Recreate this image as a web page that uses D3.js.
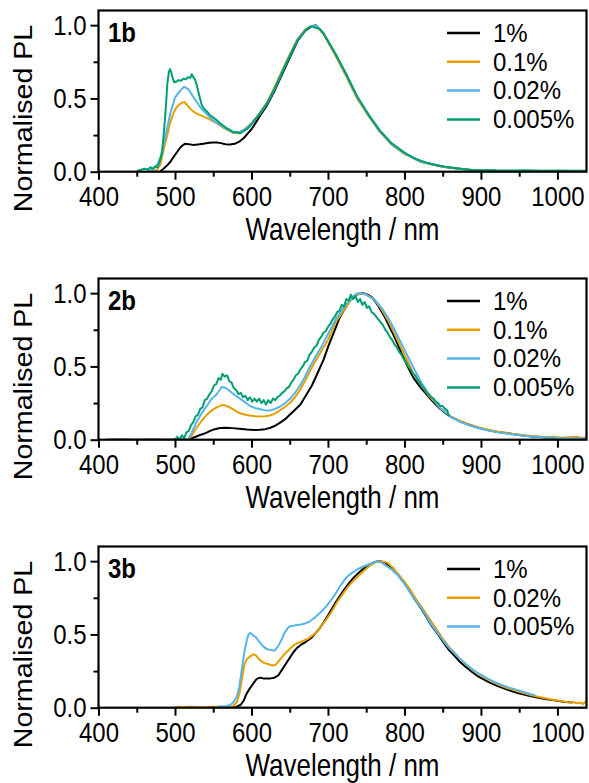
<!DOCTYPE html>
<html>
<head>
<meta charset="utf-8">
<script src="https://cdn.jsdelivr.net/npm/d3@7"></script>
<style>
  html, body { margin: 0; padding: 0; background: #fff; }
  svg { display: block; }
  text { font-family: "Liberation Sans", Arial, sans-serif; fill: #000; }
  /* the figure's lettering is drawn slightly tall */
  text.tall { transform-box: fill-box; transform-origin: center; transform: scaleY(1.18); }
  text.legend { transform-box: fill-box; transform-origin: center; transform: scaleY(1.06); }
</style>
</head>
<body>
<svg id="fig" width="589" height="783"></svg>
<script>
// ---- Photoluminescence spectra, normalised (wavelength in nm) ----

// Panel 1b
const wl1bBlack = [480,485,490,494,498,503,507,510,513,518,524,530,537,545,550,555,560,566,572,578,584,590,595,600,605,611,620,630,645,660,670,678,684,694,709,724,738,753,768,783,800,822,851,886,920,960,1000,1040];
const pl1bBlack = [0,0.02,0.045,0.068,0.1,0.136,0.165,0.18,0.19,0.187,0.183,0.186,0.19,0.197,0.2,0.199,0.195,0.187,0.185,0.19,0.205,0.23,0.26,0.29,0.33,0.38,0.45,0.55,0.72,0.89,0.96,0.99,1.0,0.945,0.81,0.66,0.51,0.386,0.275,0.19,0.125,0.068,0.034,0.012,0.006,0.004,0.003,0.003];

const wl1bOrange = [470,476,481,485,490,494,498,502,506,509,512,516,520,524,529,537,546,555,563,572,581,590,600,611,620,630,645,660,670,678,684,694,709,724,738,753,768,783,800,822,851,886,920,960,1000,1040];
const pl1bOrange = [0,0.01,0.05,0.148,0.25,0.34,0.4,0.44,0.46,0.47,0.475,0.455,0.43,0.41,0.395,0.378,0.355,0.33,0.3,0.275,0.262,0.285,0.33,0.4,0.47,0.575,0.745,0.905,0.97,0.995,0.995,0.94,0.8,0.65,0.5,0.38,0.27,0.186,0.122,0.066,0.032,0.011,0.006,0.005,0.004,0.004];

const wl1bBlue = [465,472,477,481,487,494,500,507,512,518,524,533,542,550,559,568,577,585,594,602,611,620,630,645,660,670,678,684,694,709,724,738,753,768,783,800,822,851,886,920,960,1000,1040];
const pl1bBlue = [0,0.02,0.05,0.1,0.23,0.4,0.505,0.555,0.58,0.56,0.51,0.44,0.39,0.35,0.32,0.29,0.272,0.27,0.3,0.34,0.395,0.46,0.56,0.735,0.9,0.965,0.995,1.0,0.945,0.81,0.66,0.51,0.386,0.275,0.19,0.125,0.068,0.034,0.012,0.006,0.004,0.003,0.003];

const wl1bGreen = [450,455,460,465,468,471,474,477,480,483,486,488,490,492,493.5,495,497,499,502,505,508,511,514,517,520,522,524,526,528,531,535,538,542,546,550,555,559,563,568,572,576,580,585,589,594,598,603,611,620,630,645,660,670,675,680,684,689,694,709,724,738,753,768,783,800,815,830,845,860,875,890,905,920,940,960,980,1000,1020,1040];
const pl1bGreen = [0.005,0.012,0.02,0.015,0.03,0.02,0.035,0.03,0.07,0.125,0.3,0.44,0.6,0.68,0.7,0.68,0.64,0.61,0.615,0.625,0.62,0.635,0.63,0.645,0.64,0.665,0.645,0.63,0.6,0.535,0.455,0.43,0.41,0.385,0.37,0.35,0.33,0.315,0.295,0.285,0.265,0.27,0.262,0.275,0.29,0.31,0.345,0.4,0.465,0.565,0.735,0.895,0.96,0.985,0.99,0.98,0.975,0.945,0.81,0.665,0.515,0.39,0.28,0.195,0.13,0.085,0.06,0.04,0.028,0.018,0.012,0.01,0.008,0.008,0.01,0.007,0.009,0.006,0.006];

// Panel 2b
const wl2bBlack = [410,430,450,470,490,505,515,522,532,540,546,552,559,567,575,584,594,603,611,618,624,631,637,644,650,657,664,671,679,686,694,701,709,715,721,727,733,740,746,752,758,765,773,780,787,797,805,812,822,832,840,847,854,861,873,886,898,910,922,935,948,960,972,984,1000,1020,1040];
const pl2bBlack = [0,0.002,0,0.002,0,0.001,0,0.01,0.03,0.045,0.06,0.072,0.08,0.082,0.079,0.074,0.069,0.067,0.068,0.072,0.08,0.095,0.115,0.14,0.17,0.205,0.24,0.3,0.37,0.45,0.543,0.645,0.75,0.83,0.886,0.935,0.975,0.995,1.0,0.99,0.97,0.92,0.85,0.775,0.7,0.58,0.49,0.42,0.35,0.29,0.245,0.21,0.18,0.155,0.125,0.1,0.08,0.065,0.053,0.044,0.034,0.025,0.02,0.015,0.012,0.009,0.007];

const wl2bOrange = [517,522,528,535,541.5,548,554.5,561,566,572,578,585,592,598,605,611,618,624,631,637,644,650,657,663.5,670,676.6,684,692,700,710,720,728,735,742,750,760,770,780,790,800,812,822,832,847,861,873,886,898,910,922,935,948,960,972,984,995,1005,1015,1025,1032,1040];
const pl2bOrange = [0,0.03,0.08,0.13,0.17,0.2,0.22,0.236,0.233,0.22,0.2,0.18,0.17,0.165,0.16,0.158,0.16,0.165,0.18,0.2,0.225,0.25,0.29,0.34,0.4,0.47,0.54,0.61,0.68,0.8,0.88,0.94,0.98,1.0,0.99,0.96,0.89,0.8,0.69,0.58,0.45,0.37,0.3,0.215,0.158,0.125,0.1,0.082,0.067,0.055,0.045,0.036,0.028,0.024,0.018,0.02,0.014,0.017,0.02,0.012,0.018];

const wl2bBlue = [517,522,528,535,541.5,548,554.5,561,566,572,578,585,592,598,605,611,618,624,631,637,644,650.5,657,663.5,670,676.6,684,692,700,710,720,728,738,748,760,770,780,790,800,812,822,832,847,861,873,886,898,910,922,935,948,960,972,984,1000,1020,1040];
const pl2bBlue = [0,0.05,0.12,0.18,0.23,0.28,0.31,0.36,0.355,0.33,0.305,0.28,0.255,0.23,0.215,0.21,0.2,0.2,0.21,0.225,0.25,0.28,0.32,0.37,0.43,0.5,0.57,0.64,0.72,0.82,0.9,0.95,1.0,0.995,0.96,0.9,0.82,0.72,0.615,0.49,0.39,0.31,0.215,0.155,0.12,0.095,0.078,0.062,0.05,0.04,0.032,0.026,0.02,0.016,0.012,0.01,0.008];

const wl2bGreen = [500,503,506,509,512,515,518,521,524,527,530,533,536,539,542,545,548,551,554,557,560,562,565,568,571,574,577,580,583,586,589,592,595,598,601,604,607,610,613,616,619,622,625,628,631,634,637,640,643,646,649,652,655,658,661,664,667,670,673,676,679,682,685,688,691,694,697,700,703,706,709,712,715,718,721,724,727,730,733,736,739,742,745,748,751,754,757,760,763,766,769,772,775,778,781,784,787,790,793,796,799,802,805,808,811,814,817,820,823,826,829,832,835,838,841,844,847,850,853,856,858];
const pl2bGreen = [0,0.02,0,0.03,0.01,0.05,0.06,0.1,0.12,0.16,0.17,0.21,0.22,0.27,0.28,0.31,0.33,0.37,0.38,0.42,0.41,0.45,0.43,0.44,0.4,0.39,0.35,0.34,0.31,0.32,0.29,0.3,0.27,0.29,0.26,0.28,0.26,0.28,0.25,0.27,0.24,0.27,0.25,0.28,0.27,0.29,0.3,0.32,0.33,0.35,0.36,0.39,0.41,0.44,0.45,0.48,0.5,0.53,0.54,0.58,0.6,0.63,0.64,0.68,0.7,0.73,0.74,0.77,0.79,0.82,0.84,0.87,0.88,0.92,0.91,0.96,0.95,0.99,0.96,0.98,0.94,0.96,0.92,0.94,0.9,0.91,0.87,0.86,0.84,0.82,0.8,0.78,0.75,0.73,0.7,0.68,0.65,0.63,0.6,0.58,0.55,0.53,0.5,0.48,0.45,0.44,0.41,0.39,0.36,0.35,0.32,0.31,0.29,0.28,0.26,0.25,0.23,0.23,0.21,0.2,0.16];

// Panel 3b
const wl3bBlack = [572,580,586,590,593,597,601,605,608,612,615,620,625,630,635,640,645,650,655,660,665,670,674,679,684,689,694,699,704,709,714,719,726,733,740,748,755,763,768,775,785,792,800,807,814,822,829,836,844,851,858,866,873,881,888,895,903,910,922,935,948,960,972,984,996,1008,1020];
const pl3bBlack = [0,0.005,0.02,0.05,0.09,0.125,0.155,0.185,0.2,0.205,0.2,0.2,0.2,0.205,0.22,0.26,0.3,0.34,0.38,0.41,0.43,0.445,0.46,0.48,0.51,0.54,0.58,0.62,0.665,0.71,0.75,0.79,0.84,0.885,0.92,0.955,0.98,0.997,1.0,0.99,0.95,0.905,0.85,0.795,0.735,0.675,0.615,0.555,0.5,0.445,0.395,0.35,0.31,0.275,0.245,0.218,0.195,0.175,0.147,0.122,0.1,0.085,0.072,0.06,0.05,0.04,0.035];

const wl3bOrange = [500,510,520,530,540,550,560,571,576,581,584,586,589,591,594,598,603,606,610,615,620,627.6,632,637,643,650,655,660,665,669,674,679,684,689,694,699,704,708.7,713,718.5,726,733,740,748,755,763,770,777.5,785,792,800,807,814,821.7,829,836.5,844,851,858,866,873,881,888,895.5,903,910,922,935,948,960,972,984,996,1008,1015,1020,1025,1030,1033,1036,1040];
const pl3bOrange = [0.005,0.003,0.006,0.004,0.005,0.006,0.004,0.005,0.01,0.04,0.09,0.15,0.24,0.3,0.33,0.35,0.365,0.355,0.33,0.31,0.3,0.288,0.295,0.327,0.365,0.4,0.425,0.44,0.45,0.46,0.47,0.49,0.51,0.54,0.575,0.61,0.65,0.69,0.73,0.77,0.825,0.865,0.9,0.94,0.97,0.995,1.0,0.99,0.955,0.91,0.86,0.81,0.75,0.692,0.635,0.578,0.52,0.464,0.415,0.372,0.33,0.293,0.262,0.235,0.21,0.19,0.16,0.133,0.112,0.094,0.078,0.065,0.052,0.042,0.036,0.04,0.03,0.035,0.025,0.038,0.03];

const wl3bBlue = [555,560,565,570,575,578,581,584,586,589,591,594,596,598,601,603,606,610,615,620,625,630,635,640,643,647,650,655,660,665,670,675,679,684,689,694,699,704,709,716,723.6,730,738,745,753,760,765,770,777,785,792,800,807,814,822,829,836,844,851,858,866,873,881,888,895,903,910,922,935,948,960,966,971];
const pl3bBlue = [0.005,0.01,0.008,0.015,0.03,0.05,0.08,0.14,0.21,0.32,0.39,0.46,0.5,0.51,0.5,0.49,0.48,0.45,0.42,0.4,0.393,0.39,0.42,0.47,0.51,0.54,0.556,0.56,0.565,0.568,0.575,0.585,0.6,0.62,0.645,0.67,0.7,0.735,0.77,0.83,0.886,0.915,0.943,0.96,0.977,0.99,1.0,0.99,0.965,0.935,0.9,0.845,0.79,0.735,0.68,0.62,0.56,0.505,0.455,0.41,0.37,0.33,0.295,0.265,0.24,0.215,0.195,0.165,0.14,0.12,0.1,0.09,0.085];

// Legend labels (dye loading) and axis ticks
const panelLabels = ["1b", "2b", "3b"];
const legend1b = ["1%", "0.1%", "0.02%", "0.005%"];
const legend2b = ["1%", "0.1%", "0.02%", "0.005%"];
const legend3b = ["1%", "0.02%", "0.005%"];
const xMajorTicks = [400, 500, 600, 700, 800, 900, 1000];
const xMinorTicks = [450, 550, 650, 750, 850, 950];
const yMajorTicks = [0.0, 0.5, 1.0];
const yMinorTicks = [0.25, 0.75];

const COLORS = { black: "#000000", orange: "#E69F00", blue: "#56B4E9", green: "#009E73" };

const panels = [
  {
    label: panelLabels[0], top: 10.5,
    series: [
      { wl: wl1bBlack, pl: pl1bBlack, color: COLORS.black, name: legend1b[0] },
      { wl: wl1bOrange, pl: pl1bOrange, color: COLORS.orange, name: legend1b[1] },
      { wl: wl1bBlue, pl: pl1bBlue, color: COLORS.blue, name: legend1b[2] },
      { wl: wl1bGreen, pl: pl1bGreen, color: COLORS.green, name: legend1b[3] }
    ]
  },
  {
    label: panelLabels[1], top: 278.5,
    series: [
      { wl: wl2bBlack, pl: pl2bBlack, color: COLORS.black, name: legend2b[0] },
      { wl: wl2bOrange, pl: pl2bOrange, color: COLORS.orange, name: legend2b[1] },
      { wl: wl2bBlue, pl: pl2bBlue, color: COLORS.blue, name: legend2b[2] },
      { wl: wl2bGreen, pl: pl2bGreen, color: COLORS.green, name: legend2b[3] }
    ]
  },
  {
    label: panelLabels[2], top: 546.5,
    series: [
      { wl: wl3bBlack, pl: pl3bBlack, color: COLORS.black, name: legend3b[0] },
      { wl: wl3bOrange, pl: pl3bOrange, color: COLORS.orange, name: legend3b[1] },
      { wl: wl3bBlue, pl: pl3bBlue, color: COLORS.blue, name: legend3b[2] }
    ]
  }
];

const svg = d3.select("#fig");
const plotLeft = 98.5, plotRight = 586.5, plotH = 161.2;
const TICK_FONT = 24, TITLE_FONT = 26, LEGEND_FONT = 24;

const x = d3.scaleLinear().domain([400, 1038]).range([plotLeft, plotRight]);

panels.forEach(p => {
  const y = d3.scaleLinear().domain([0, 1.1]).range([p.top + plotH, p.top]);
  const g = svg.append("g");
  const bottom = p.top + plotH;

  // clip to the plotting frame
  const clipId = "clip-" + p.label;
  g.append("clipPath").attr("id", clipId)
    .append("rect").attr("x", plotLeft).attr("y", p.top)
    .attr("width", plotRight - plotLeft).attr("height", plotH);

  const line = d3.line().x(d => x(d[0])).y(d => y(d[1]));
  const curves = g.append("g").attr("clip-path", `url(#${clipId})`);
  p.series.forEach(s => {
    curves.append("path")
      .datum(d3.zip(s.wl, s.pl))
      .attr("d", line)
      .attr("fill", "none")
      .attr("stroke", s.color)
      .attr("stroke-width", 2)
      .attr("stroke-linejoin", "round");
  });

  // frame
  g.append("rect").attr("x", plotLeft).attr("y", p.top)
    .attr("width", plotRight - plotLeft).attr("height", plotH)
    .attr("fill", "none").attr("stroke", "#000").attr("stroke-width", 2.2);

  // bottom axis
  const xAxis = g.append("g").attr("transform", `translate(0,${bottom})`)
    .call(d3.axisBottom(x).tickValues(xMajorTicks).tickSize(8).tickPadding(8).tickFormat(d3.format("d")));
  xAxis.select(".domain").remove();
  xAxis.selectAll(".tick line").attr("stroke-width", 2);
  xAxis.selectAll(".tick text").attr("class", "tall").attr("font-size", TICK_FONT)
    .attr("font-family", "Liberation Sans, Arial, sans-serif");
  const xMinor = g.append("g").attr("transform", `translate(0,${bottom})`)
    .call(d3.axisBottom(x).tickValues(xMinorTicks).tickSize(5).tickFormat(""));
  xMinor.select(".domain").remove();
  xMinor.selectAll(".tick line").attr("stroke-width", 2);

  // left axis
  const yAxis = g.append("g").attr("transform", `translate(${plotLeft},0)`)
    .call(d3.axisLeft(y).tickValues(yMajorTicks).tickSize(8).tickPadding(4).tickFormat(d3.format(".1f")));
  yAxis.select(".domain").remove();
  yAxis.selectAll(".tick line").attr("stroke-width", 2);
  yAxis.selectAll(".tick text").attr("class", "tall").attr("font-size", TICK_FONT)
    .attr("font-family", "Liberation Sans, Arial, sans-serif");
  const yMinor = g.append("g").attr("transform", `translate(${plotLeft},0)`)
    .call(d3.axisLeft(y).tickValues(yMinorTicks).tickSize(5).tickFormat(""));
  yMinor.select(".domain").remove();
  yMinor.selectAll(".tick line").attr("stroke-width", 2);

  // axis titles
  g.append("text").attr("class", "tall")
    .attr("x", (plotLeft + plotRight) / 2).attr("y", bottom + 58)
    .attr("text-anchor", "middle").attr("dominant-baseline", "central")
    .attr("font-size", TITLE_FONT).text("Wavelength / nm");
  g.append("text")
    .attr("transform", `translate(22.5,${p.top + 108}) rotate(-90) scale(1.1,1)`)
    .attr("text-anchor", "middle").attr("dominant-baseline", "central")
    .attr("font-size", TITLE_FONT).text("Normalised PL");

  // panel label
  g.append("text").attr("class", "tall")
    .attr("x", 108).attr("y", p.top + 22)
    .attr("dominant-baseline", "central")
    .attr("font-size", 24).attr("font-weight", "bold").text(p.label);

  // legend
  const leg = g.append("g");
  p.series.forEach((s, i) => {
    const ly = p.top + 22.5 + i * 28.8;
    leg.append("line").attr("x1", 447).attr("x2", 480).attr("y1", ly).attr("y2", ly)
      .attr("stroke", s.color).attr("stroke-width", 2.5);
    leg.append("text").attr("class", "legend").attr("x", 493).attr("y", ly)
      .attr("dominant-baseline", "central").attr("font-size", LEGEND_FONT).text(s.name);
  });
});
</script>
</body>
</html>
